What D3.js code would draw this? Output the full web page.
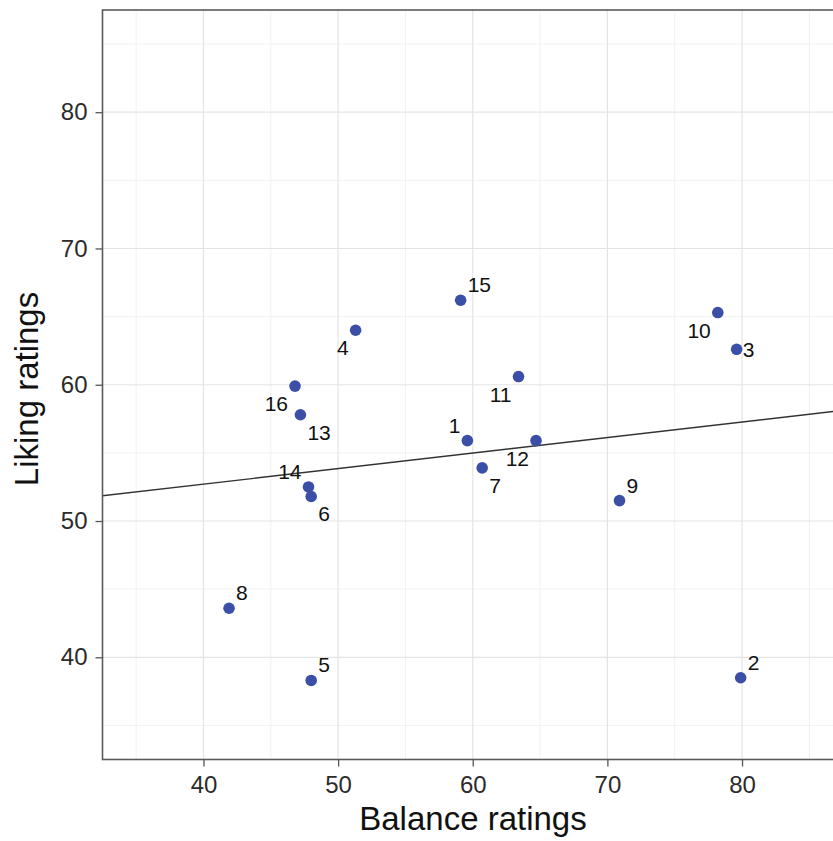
<!DOCTYPE html>
<html>
<head>
<meta charset="utf-8">
<script src="https://cdn.jsdelivr.net/npm/d3@7"></script>
<style>
  html, body { margin: 0; padding: 0; background: #fff; }
  svg { display: block; font-family: "Liberation Sans", Arial, sans-serif; }
</style>
</head>
<body>
<svg id="chart" width="833" height="841"></svg>
<script>
// Sample ids with their balance (x) and liking (y) ratings
const ids     = ["1","2","3","4","5","6","7","8","9","10","11","12","13","14","15","16"];
const balance = [59.6, 79.9, 79.6, 51.3, 48.0, 48.0, 60.7, 41.9, 70.9, 78.2, 63.4, 64.7, 47.2, 47.8, 59.1, 46.8];
const liking  = [55.9, 38.5, 62.6, 64.0, 38.3, 51.8, 53.9, 43.6, 51.5, 65.3, 60.6, 55.9, 57.8, 52.5, 66.2, 59.9];
// Where each id label sits relative to its point
const labelSide = ["tl","tr","r","bl","tr","br","br","tr","tr","bl","bl","bl","br","tl","tr","bl"];

const xTicks = [40, 50, 60, 70, 80];
const yTicks = [40, 50, 60, 70, 80];
const xMinor = [35, 45, 55, 65, 75, 85];
const yMinor = [35, 45, 55, 65, 75, 85];
// both axes span 35..85 with a 5% margin either side
const limits = [32.5, 87.5];

const svg = d3.select("#chart");
const panel = { left: 102.5, top: 10, right: 843, bottom: 759.5 };

const x = d3.scaleLinear().domain(limits).range([panel.left, panel.right]);
const y = d3.scaleLinear().domain(limits).range([panel.bottom, panel.top]);

svg.append("defs").append("clipPath").attr("id", "panelClip")
  .append("rect")
  .attr("x", panel.left).attr("y", panel.top)
  .attr("width", panel.right - panel.left).attr("height", panel.bottom - panel.top);

const g = svg.append("g").attr("clip-path", "url(#panelClip)");

// grid: minor then major
g.selectAll(".xminor").data(xMinor).join("line")
  .attr("x1", d => x(d)).attr("x2", d => x(d))
  .attr("y1", panel.top).attr("y2", panel.bottom)
  .attr("stroke", "#f1f1f1").attr("stroke-width", 1);
g.selectAll(".yminor").data(yMinor).join("line")
  .attr("y1", d => y(d)).attr("y2", d => y(d))
  .attr("x1", panel.left).attr("x2", panel.right)
  .attr("stroke", "#f1f1f1").attr("stroke-width", 1);
g.selectAll(".xmajor").data(xTicks).join("line")
  .attr("x1", d => x(d)).attr("x2", d => x(d))
  .attr("y1", panel.top).attr("y2", panel.bottom)
  .attr("stroke", "#e4e4e4").attr("stroke-width", 1.2);
g.selectAll(".ymajor").data(yTicks).join("line")
  .attr("y1", d => y(d)).attr("y2", d => y(d))
  .attr("x1", panel.left).attr("x2", panel.right)
  .attr("stroke", "#e4e4e4").attr("stroke-width", 1.2);

// least-squares fit of liking on balance
const mx = d3.mean(balance), my = d3.mean(liking);
const sxy = d3.sum(balance, (v, i) => (v - mx) * (liking[i] - my));
const sxx = d3.sum(balance, v => (v - mx) * (v - mx));
const slope = sxy / sxx, intercept = my - slope * mx;
g.append("line")
  .attr("x1", x(limits[0])).attr("y1", y(intercept + slope * limits[0]))
  .attr("x2", x(limits[1])).attr("y2", y(intercept + slope * limits[1]))
  .attr("stroke", "#333").attr("stroke-width", 1.4);

const pts = ids.map((id, i) => ({ id, bx: balance[i], ly: liking[i], side: labelSide[i] }));

g.selectAll("circle").data(pts).join("circle")
  .attr("cx", d => x(d.bx)).attr("cy", d => y(d.ly))
  .attr("r", 5.8).attr("fill", "#3b4fa6");

const off = {
  tl: [-7, -8, "end"], tr: [7, -8, "start"], r: [6, 8, "start"],
  bl: [-7, 25, "end"], br: [7, 25, "start"]
};
g.selectAll("text.lab").data(pts).join("text")
  .attr("class", "lab")
  .attr("x", d => x(d.bx) + off[d.side][0])
  .attr("y", d => y(d.ly) + off[d.side][1])
  .attr("text-anchor", d => off[d.side][2])
  .attr("font-size", 21).attr("fill", "#111")
  .text(d => d.id);

// panel border
svg.append("rect")
  .attr("x", panel.left).attr("y", panel.top)
  .attr("width", panel.right - panel.left).attr("height", panel.bottom - panel.top)
  .attr("fill", "none").attr("stroke", "#5a5a5a").attr("stroke-width", 1.6);

// axes
const xAxis = svg.append("g").attr("transform", `translate(0,${panel.bottom})`)
  .call(d3.axisBottom(x).tickValues(xTicks).tickSize(7).tickPadding(9));
const yAxis = svg.append("g").attr("transform", `translate(${panel.left},0)`)
  .call(d3.axisLeft(y).tickValues(yTicks).tickSize(7).tickPadding(8));
[xAxis, yAxis].forEach(a => {
  a.select(".domain").remove();
  a.selectAll(".tick line").attr("stroke", "#555").attr("stroke-width", 1.3);
  a.selectAll(".tick text").attr("font-size", 24).attr("fill", "#2b2b2b")
    .attr("font-family", "'Liberation Sans', Arial, sans-serif");
});

svg.append("text")
  .attr("x", 473).attr("y", 830)
  .attr("text-anchor", "middle").attr("font-size", 33).attr("fill", "#111")
  .text("Balance ratings");
svg.append("text")
  .attr("transform", "translate(38,389) rotate(-90)")
  .attr("text-anchor", "middle").attr("font-size", 33).attr("fill", "#111")
  .text("Liking ratings");
</script>
</body>
</html>
